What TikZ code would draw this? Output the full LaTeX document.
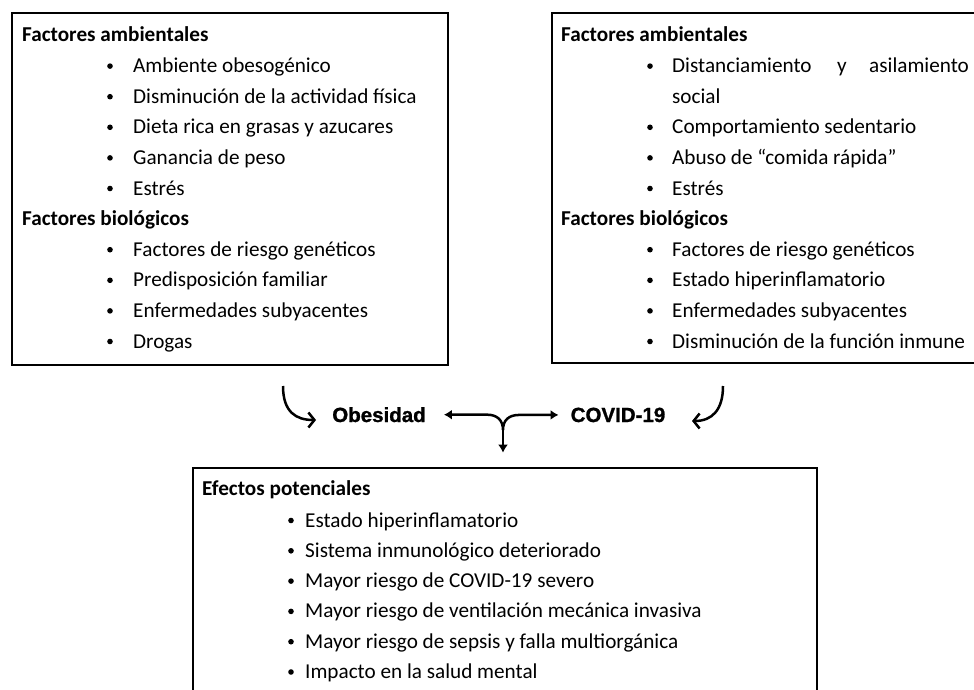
\documentclass[tikz,border=0pt]{standalone}
\usepackage{fontspec}
\setmainfont{Carlito}
\newfontfamily\midfont[BoldFeatures={FakeBold=1.2}]{Liberation Sans}
\usetikzlibrary{arrows.meta}
\begin{document}
\begin{tikzpicture}[x=1pt,y=-1pt,
  box/.style={draw, line width=2.8pt, rectangle, inner sep=0pt},
  txt/.style={anchor=base west, inner sep=0pt, font=\fontsize{21.2}{25}\selectfont},
  hd/.style={anchor=base west, inner sep=0pt, font=\fontsize{21.2}{25}\selectfont\bfseries},
  bul/.style={circle, fill, inner sep=0pt, minimum size=5.6pt},
  mid/.style={anchor=base, inner sep=0pt, font=\midfont\bfseries\fontsize{20.5}{24}\selectfont},
  conn/.style={line width=2.5pt},
  tri/.style={{Latex[length=8pt,width=10pt]}-{Latex[length=8pt,width=10pt]}},
  barb/.style={-{Straight Barb[length=6pt,width=15pt]}},
]
\useasboundingbox (0,0) rectangle (974,690);
\clip (0,0) rectangle (974,690);

% boxes
\node[box, minimum width=436pt, minimum height=352pt] (L) at (230,189) {};
\node[box, minimum width=460pt, minimum height=350pt] (R) at (782,188) {};
\node[box, minimum width=624pt, minimum height=300pt] (E) at (505,618) {};

% left box
\node[hd] (Lh1) at (22,42) {Factores ambientales};
\foreach \t [count=\i] in {Ambiente obesogénico,Disminución de la actividad física,Dieta rica en grasas y azucares,Ganancia de peso,Estrés}{
  \node[bul] (Lb\i) at (110,{42+30.6*\i-6.5}) {};
  \node[txt] (Lt\i) at (133,{42+30.6*\i}) {\t};
}
\node[hd] (Lh2) at (22,225.6) {Factores biológicos};
\foreach \t [count=\i] in {Factores de riesgo genéticos,Predisposición familiar,Enfermedades subyacentes,Drogas}{
  \node[bul] (Lc\i) at (110,{225.6+30.6*\i-6.5}) {};
  \node[txt] (Lu\i) at (133,{225.6+30.6*\i}) {\t};
}

% right box
\node[hd] (Rh1) at (561,42) {Factores ambientales};
\node[bul] (Rb1) at (650,66.1) {};
\node[txt] (Rt1a) at (672,72.6) {Distanciamiento};
\node[txt] (Rt1b) at (837,72.6) {y};
\node[txt] (Rt1c) at (869,72.6) {asilamiento};
\node[txt] (Rt1d) at (672,103.2) {social};
\foreach \t [count=\i] in {Comportamiento sedentario,Abuso de “comida rápida”,Estrés}{
  \node[bul] (Rb\i x) at (650,{103.2+30.6*\i-6.5}) {};
  \node[txt] (Rt\i x) at (672,{103.2+30.6*\i}) {\t};
}
\node[hd] (Rh2) at (561,225.6) {Factores biológicos};
\foreach \t [count=\i] in {Factores de riesgo genéticos,Estado hiperinflamatorio,Enfermedades subyacentes,Disminución de la función inmune}{
  \node[bul] (Rc\i) at (650,{225.6+30.6*\i-6.5}) {};
  \node[txt] (Ru\i) at (672,{225.6+30.6*\i}) {\t};
}

% bottom box
\node[hd] (Eh) at (202,495) {Efectos potenciales};
\foreach \t [count=\i] in {Estado hiperinflamatorio,Sistema inmunológico deteriorado,Mayor riesgo de COVID-19 severo,Mayor riesgo de ventilación mecánica invasiva,Mayor riesgo de sepsis y falla multiorgánica,Impacto en la salud mental}{
  \node[bul] (Eb\i) at (291,{496.7+30.3*\i-6.5}) {};
  \node[txt] (Et\i) at (305,{496.7+30.3*\i}) {\t};
}

% middle
\node[mid] (ob) at (379,422) {Obesidad};
\node[mid] (cov) at (618,422) {COVID-19};

\coordinate (J) at (503,430);
\coordinate (Jl) at (487,0);
\coordinate (Jr) at (519,0);
\draw[conn, tri, shorten <=18pt, shorten >=12pt]
  (ob.east) -- (ob.east -| Jl) .. controls +(10,0) and (503,420) .. (J)
  .. controls (503,420) and +(-10,0) .. (cov.west -| Jr) -- (cov.west);
\draw[conn, -{Latex[length=8pt,width=10pt]}, shorten >=14pt] (J) -- (J |- E.north);

% curved arrows
\coordinate (la) at (283,386);
\coordinate (lb) at (316,420);
\draw[conn, barb] (la) .. controls (283,412) and (296,420) .. (lb);
\coordinate (ra) at (723,386);
\coordinate (rb) at (692,421);
\draw[conn, barb] (ra) .. controls (723,410) and (712,421) .. (rb);
\end{tikzpicture}
\end{document}
